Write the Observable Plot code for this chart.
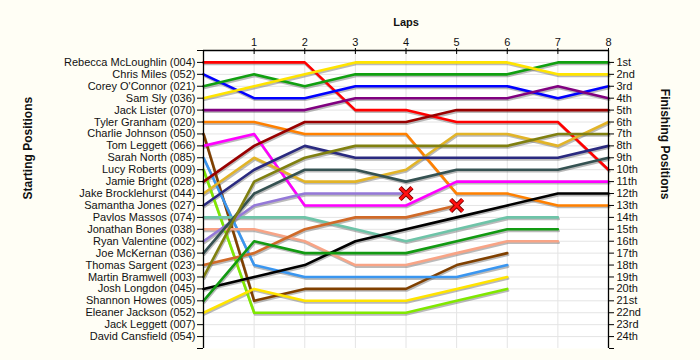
<!DOCTYPE html>
<html>
<head>
<meta charset="utf-8">
<script src="https://cdn.jsdelivr.net/npm/d3@7"></script>
<script src="https://cdn.jsdelivr.net/npm/@observablehq/plot@0.6"></script>
<style>
  html, body { margin: 0; padding: 0; background: #FFFEF5; }
  #chart svg { display: block; }
</style>
</head>
<body>
<div id="chart"></div>
<script>
// Riders in starting order (starting position = index + 1)
const riders = [
  "Rebecca McLoughlin (004)", "Chris Miles (052)", "Corey O'Connor (021)", "Sam Sly (036)",
  "Jack Lister (070)", "Tyler Granham (020)", "Charlie Johnson (050)", "Tom Leggett (066)",
  "Sarah North (085)", "Lucy Roberts (009)", "Jamie Bright (028)", "Jake Brocklehurst (044)",
  "Samantha Jones (027)", "Pavlos Massos (074)", "Jonathan Bones (038)", "Ryan Valentine (002)",
  "Joe McKernan (036)", "Thomas Sargent (023)", "Martin Bramwell (003)", "Josh Longdon (045)",
  "Shannon Howes (005)", "Eleaner Jackson (052)", "Jack Leggett (007)", "David Cansfield (054)"
];
const colors = [
  "#FF0000", "#0000FF", "#10A010", "#FFE400",
  "#800080", "#FF8000", "#804000", "#FF00FF",
  "#3A96F0", "#80E800", "#990000", "#E2B428",
  "#2A2A80", "#6EC4A8", "#F8A486", "#9478D8",
  "#355252", "#D06A28", "#808010", "#000000",
  "#129A12", "#FFE400", "#999999", "#999999"
];
// Position of each rider at lap 0..n (rider drops out when its list ends)
const tracks = [
  [1, 1, 1, 5, 5, 6, 6, 6, 10],
  [2, 4, 4, 3, 3, 3, 3, 4, 3],
  [3, 2, 3, 2, 2, 2, 2, 1, 1],
  [4, 3, 2, 1, 1, 1, 1, 2, 2],
  [5, 5, 5, 4, 4, 4, 4, 3, 4],
  [6, 6, 7, 7, 7, 12, 12, 13, 13],
  [7, 21, 20, 20, 20, 18, 17],
  [8, 7, 13, 13, 13, 11, 11, 11, 11],
  [9, 18, 19, 19, 19, 19, 18],
  [10, 22, 22, 22, 22, 21, 20],
  [11, 8, 6, 6, 6, 5, 5, 5, 5],
  [12, 9, 11, 11, 10, 7, 7, 8, 6],
  [13, 10, 8, 9, 9, 9, 9, 9, 8],
  [14, 14, 14, 15, 16, 15, 14, 14],
  [15, 15, 16, 18, 18, 17, 16, 16],
  [16, 13, 12, 12, 12],
  [17, 12, 10, 10, 11, 10, 10, 10, 9],
  [18, 17, 15, 14, 14, 13],
  [19, 11, 9, 8, 8, 8, 8, 7, 7],
  [20, 19, 18, 16, 15, 14, 13, 12, 12],
  [21, 16, 17, 17, 17, 16, 15, 15],
  [22, 20, 21, 21, 21, 20, 19],
  [],
  []
];
// Riders crossed out at their last recorded position
const crashed = ["Ryan Valentine (002)", "Thomas Sargent (023)"];
const lapTicks = [1, 2, 3, 4, 5, 6, 7, 8];
const finishLabels = [
  "1st", "2nd", "3rd", "4th", "5th", "6th", "7th", "8th", "9th", "10th", "11th", "12th",
  "13th", "14th", "15th", "16th", "17th", "18th", "19th", "20th", "21st", "22nd", "23rd", "24th"
];

const rows = [];
tracks.forEach((t, i) => t.forEach((p, lap) => rows.push({rider: riders[i], lap, pos: p})));
const crashRows = crashed.map(r => {
  const t = tracks[riders.indexOf(r)];
  return {rider: r, lap: t.length - 1, pos: t[t.length - 1]};
});
const posTicks = d3.range(1, 25);

const chart = Plot.plot({
  width: 700,
  height: 360,
  marginLeft: 203,
  marginRight: 92,
  marginTop: 50,
  marginBottom: 12,
  style: {background: "#FFFEF5", fontFamily: "'Liberation Sans', Arial, sans-serif", fontSize: "11px", color: "#000"},
  x: {domain: [0, 8]},
  y: {domain: [0, 25], reverse: true},
  color: {domain: riders, range: colors},
  marks: [
    Plot.frame({fill: "white", stroke: null}),
    Plot.gridY(posTicks, {stroke: "#e4e4e4", strokeOpacity: 1}),
    Plot.gridX(d3.range(1, 8), {stroke: "#e4e4e4", strokeOpacity: 1}),
    Plot.line(rows, {x: "lap", y: "pos", z: "rider", stroke: "#666", strokeOpacity: 0.45, strokeWidth: 2.6, dx: 0.8, dy: 1.6}),
    Plot.line(rows, {x: "lap", y: "pos", z: "rider", stroke: "rider", strokeWidth: 2.6}),
    Plot.dot(crashRows, {x: "lap", y: "pos", symbol: "times", r: 5.5, stroke: "#7a0000", strokeWidth: 4.5}),
    Plot.dot(crashRows, {x: "lap", y: "pos", symbol: "times", r: 5.5, stroke: "#ff1010", strokeWidth: 2.6}),
    Plot.ruleX([0, 8], {stroke: "black", strokeWidth: 1.3}),
    Plot.ruleY([0], {stroke: "black", strokeWidth: 1.3}),
    Plot.axisY([...posTicks, 0, 25], {anchor: "left", tickSize: 6, tickPadding: 2, fontSize: 11,
      tickFormat: d => riders[d - 1] || "", label: null, stroke: "black", fill: "#111"}),
    Plot.axisY([...posTicks, 25], {anchor: "right", tickSize: 5, tickPadding: 3, fontSize: 11,
      tickFormat: d => finishLabels[d - 1] || "", label: null, stroke: "black", fill: "#111"}),
    Plot.axisX(lapTicks, {anchor: "top", tickSize: 6, dy: 3, text: null, label: null, stroke: "black"}),
    Plot.axisX(lapTicks, {anchor: "top", tickSize: 0, tickPadding: 5, fontSize: 11, label: null, fill: "#111"}),
    Plot.text(["Laps"], {frameAnchor: "top", dy: -32, fontWeight: "bold", fontSize: 11, fill: "#111"}),
    Plot.text(["Starting Positions"], {frameAnchor: "left", dx: -175, rotate: -90, fontWeight: "bold", fontSize: 12, fill: "#111"}),
    Plot.text(["Finishing Positions"], {frameAnchor: "right", dx: 56, rotate: 90, fontWeight: "bold", fontSize: 12, fill: "#111"})
  ]
});
document.getElementById("chart").append(chart);
</script>
</body>
</html>
